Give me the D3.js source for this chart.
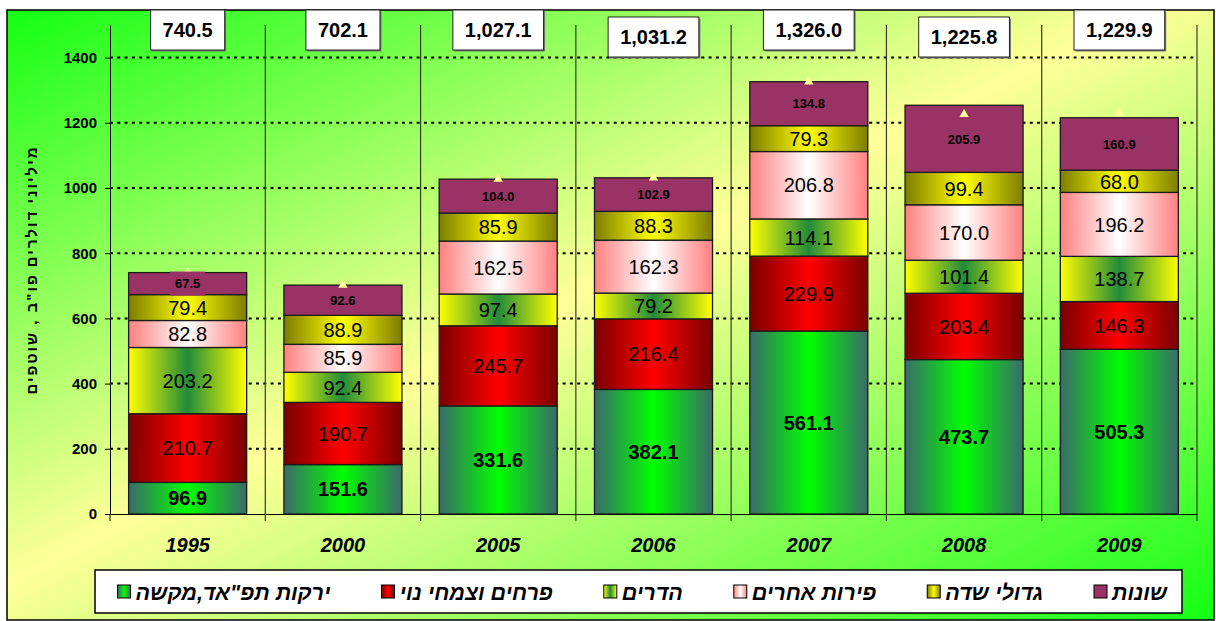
<!DOCTYPE html>
<html>
<head>
<meta charset="utf-8">
<script src="https://cdn.jsdelivr.net/npm/d3@7"></script>
<style>
  body { margin: 0; background: #fff; }
  svg { display: block; font-family: Arial, "Liberation Sans", "DejaVu Sans", sans-serif; }
</style>
</head>
<body>
<div id="chart-area"></div>
<script>
// Data
let years = ["1995", "2000", "2005", "2006", "2007", "2008", "2009"];
let vegetables = [96.9, 151.6, 331.6, 382.1, 561.1, 473.7, 505.3];
let flowers = [210.7, 190.7, 245.7, 216.4, 229.9, 203.4, 146.3];
let citrus = [203.2, 92.4, 97.4, 79.2, 114.1, 101.4, 138.7];
let otherFruit = [82.8, 85.9, 162.5, 162.3, 206.8, 170.0, 196.2];
let fieldCrops = [79.4, 88.9, 85.9, 88.3, 79.3, 99.4, 68.0];
let misc = [67.5, 92.6, 104.0, 102.9, 134.8, 205.9, 160.9];
let totals = [740.5, 702.1, 1027.1, 1031.2, 1326.0, 1225.8, 1229.9];
let yTicks = [0, 200, 400, 600, 800, 1000, 1200, 1400];
let seriesNames = ["ירקות תפ\"אד,מקשה", "פרחים וצמחי נוי", "הדרים", "פירות אחרים", "גדולי שדה", "שונות"];
let yTitle = "מיליוני דולרים פו\"ב , שוטפים";

let series = [
    { key: "veg", values: vegetables, stops: ["#3b6a6a", "#00ff00", "#3b6a6a"] },
    { key: "flo", values: flowers, stops: ["#7a0000", "#ff0000", "#7a0000"] },
    { key: "cit", values: citrus, stops: ["#ffff00", "#228b3a", "#ffff00"] },
    { key: "fru", values: otherFruit, stops: ["#ff8080", "#ffffff", "#ff8080"] },
    { key: "fld", values: fieldCrops, stops: ["#7d7d00", "#ffff00", "#7d7d00"] },
    { key: "mis", values: misc, stops: ["#993366", "#993366", "#993366"] }
];
series.forEach(function(s, i) { s.name = seriesNames[i]; });

let rows = years.map(function(yr, i) {
    let r = { year: yr };
    series.forEach(function(s) { r[s.key] = s.values[i]; });
    return r;
});

let W = 1216, H = 621;
let svg = d3.select("#chart-area").append("svg")
    .attr("width", W)
    .attr("height", H);

let defs = svg.append("defs");

// chart background gradient
let bg = defs.append("linearGradient").attr("id", "bgGrad")
    .attr("x1", 0).attr("y1", 0).attr("x2", 1).attr("y2", 1);
bg.append("stop").attr("offset", 0).attr("stop-color", "#14ff14");
bg.append("stop").attr("offset", 0.47).attr("stop-color", "#ffff99");
bg.append("stop").attr("offset", 1).attr("stop-color", "#14ff14");

series.forEach(function(s) {
    let g = defs.append("linearGradient").attr("id", "grad-" + s.key)
        .attr("x1", 0).attr("y1", 0).attr("x2", 1).attr("y2", 0);
    s.stops.forEach(function(c, j) {
        g.append("stop").attr("offset", j / 2).attr("stop-color", c);
    });
});

svg.append("rect")
    .attr("x", 7).attr("y", 10)
    .attr("width", 1207).attr("height", 610)
    .attr("fill", "url(#bgGrad)")
    .attr("stroke", "#000")
    .attr("stroke-width", 1.5);

// Scales
let x = d3.scaleBand()
    .domain(years)
    .range([110, 1197])
    .paddingInner(0.24)
    .paddingOuter(0.12);

let y = d3.scaleLinear()
    .domain([0, 1500])
    .range([514, 25]);

// Gridlines
svg.append("g").attr("class", "grid")
    .selectAll("line")
    .data(yTicks.filter(function(d) { return d > 0; }))
    .enter().append("line")
    .attr("x1", 110).attr("x2", 1197)
    .attr("y1", function(d) { return y(d); })
    .attr("y2", function(d) { return y(d); })
    .attr("stroke", "#000")
    .attr("stroke-width", 2)
    .attr("stroke-dasharray", "3,4.3");

// Category dividers
let step = x.step();
svg.append("g").attr("class", "dividers")
    .selectAll("line")
    .data(d3.range(1, years.length + 1))
    .enter().append("line")
    .attr("x1", function(i) { return 110 + i * step; })
    .attr("x2", function(i) { return 110 + i * step; })
    .attr("y1", 25).attr("y2", 521)
    .attr("stroke", "#3a3a2a")
    .attr("stroke-width", 1.2);
svg.append("line")
    .attr("x1", 110).attr("x2", 110)
    .attr("y1", 514).attr("y2", 521)
    .attr("stroke", "#000");

// Y Axis
let yAxisCall = d3.axisLeft(y)
    .tickValues(yTicks)
    .tickFormat(d3.format("d"))
    .tickSize(5)
    .tickSizeOuter(0)
    .tickPadding(8);
let yAxis = svg.append("g")
    .attr("class", "y axis")
    .attr("transform", "translate(110,0)")
    .call(yAxisCall);
yAxis.selectAll("text")
    .attr("font-size", "15px")
    .attr("font-weight", "bold")
    .attr("fill", "#000");

// X Axis
let xAxisCall = d3.axisBottom(x)
    .tickSize(0)
    .tickSizeOuter(0)
    .tickPadding(24);
let xAxis = svg.append("g")
    .attr("class", "x axis")
    .attr("transform", "translate(0,514)")
    .call(xAxisCall);
xAxis.select(".domain").attr("stroke-width", 1.2);
xAxis.selectAll("text")
    .attr("font-size", "20px")
    .attr("font-weight", "bold")
    .attr("font-style", "italic")
    .attr("fill", "#000");

// Y Label
svg.append("text")
    .attr("transform", "translate(37,270) rotate(-90)")
    .attr("text-anchor", "middle")
    .attr("font-size", "15px")
    .attr("font-weight", "bold")
    .attr("letter-spacing", "2px")
    .text(yTitle);

// Bars
let stacked = d3.stack().keys(series.map(function(s) { return s.key; }))(rows);

let layers = svg.append("g").attr("class", "bars")
    .selectAll("g")
    .data(stacked)
    .enter().append("g")
    .attr("fill", function(d) { return "url(#grad-" + d.key + ")"; });

layers.selectAll("rect")
    .data(function(d) { return d; })
    .enter().append("rect")
    .attr("x", function(d) { return x(d.data.year); })
    .attr("y", function(d) { return y(d[1]); })
    .attr("width", x.bandwidth())
    .attr("height", function(d) { return y(d[0]) - y(d[1]); })
    .attr("stroke", "#1a1a1a")
    .attr("stroke-width", 1.3);

// Total markers (triangles)
svg.append("g").attr("class", "markers")
    .selectAll("path")
    .data(totals)
    .enter().append("path")
    .attr("d", d3.symbol(d3.symbolTriangle).size(38))
    .attr("transform", function(d, i) {
        return "translate(" + (x(years[i]) + x.bandwidth() / 2) + "," + y(d) + ")";
    })
    .attr("fill", "#ffff99");

// Segment labels
let labels = svg.append("g").attr("class", "labels");
stacked.forEach(function(layer) {
    layer.forEach(function(d) {
        let cx = x(d.data.year) + x.bandwidth() / 2;
        let cy = (y(d[0]) + y(d[1])) / 2;
        let v = d.data[layer.key].toFixed(1);
        if (layer.key === "mis") {
            let t = labels.append("text")
                .attr("x", cx).attr("y", cy)
                .attr("dy", "0.36em")
                .attr("text-anchor", "middle")
                .attr("font-size", "13px")
                .attr("font-weight", "bold")
                .text(v);
            let w = t.node().getComputedTextLength();
            labels.insert("rect", function() { return t.node(); })
                .attr("x", cx - w / 2 - 5).attr("y", cy - 12)
                .attr("width", w + 10).attr("height", 24)
                .attr("fill", "#993366");
        } else {
            labels.append("text")
                .attr("x", cx).attr("y", cy)
                .attr("dy", "0.36em")
                .attr("text-anchor", "middle")
                .attr("font-size", "20px")
                .attr("font-weight", layer.key === "veg" ? "bold" : "normal")
                .text(v);
        }
    });
});

// Total boxes
let boxes = svg.append("g").attr("class", "totals");
totals.forEach(function(t, i) {
    let cx = x(years[i]) + x.bandwidth() / 2;
    let top = (years[i] === "2006" || years[i] === "2008") ? 17 : 10;
    let g = boxes.append("g");
    let txt = g.append("text")
        .attr("x", cx).attr("y", top + 20)
        .attr("dy", "0.36em")
        .attr("text-anchor", "middle")
        .attr("font-size", "20px")
        .attr("font-weight", "bold")
        .text(d3.format(",.1f")(t));
    let w = txt.node().getComputedTextLength() + 24;
    g.insert("rect", "text")
        .attr("x", cx - w / 2 + 1.5).attr("y", top + 1.5)
        .attr("width", w).attr("height", 40)
        .attr("fill", "#777");
    g.insert("rect", "text")
        .attr("x", cx - w / 2).attr("y", top)
        .attr("width", w).attr("height", 40)
        .attr("fill", "#fff")
        .attr("stroke", "#222")
        .attr("stroke-width", 1);
});

// Legend
let legend = svg.append("g").attr("class", "legend");
legend.append("rect")
    .attr("x", 95).attr("y", 570)
    .attr("width", 1087).attr("height", 43)
    .attr("fill", "#fff")
    .attr("stroke", "#000")
    .attr("stroke-width", 1.5);

let cursor = 1167;
series.slice().reverse().forEach(function(s) {
    let t = legend.append("text")
        .attr("x", cursor).attr("y", 592)
        .attr("dy", "0.36em")
        .attr("text-anchor", "end")
        .attr("font-size", "21.5px")
        .attr("font-weight", "bold")
        .attr("font-style", "italic")
        .text(s.name);
    let w = t.node().getComputedTextLength();
    let sx = cursor - w - 5 - 13;
    legend.append("rect")
        .attr("x", sx).attr("y", 585)
        .attr("width", 13).attr("height", 13)
        .attr("fill", "url(#grad-" + s.key + ")")
        .attr("stroke", "#000")
        .attr("stroke-width", 1);
    cursor = sx - 51;
});
</script>
</body>
</html>
